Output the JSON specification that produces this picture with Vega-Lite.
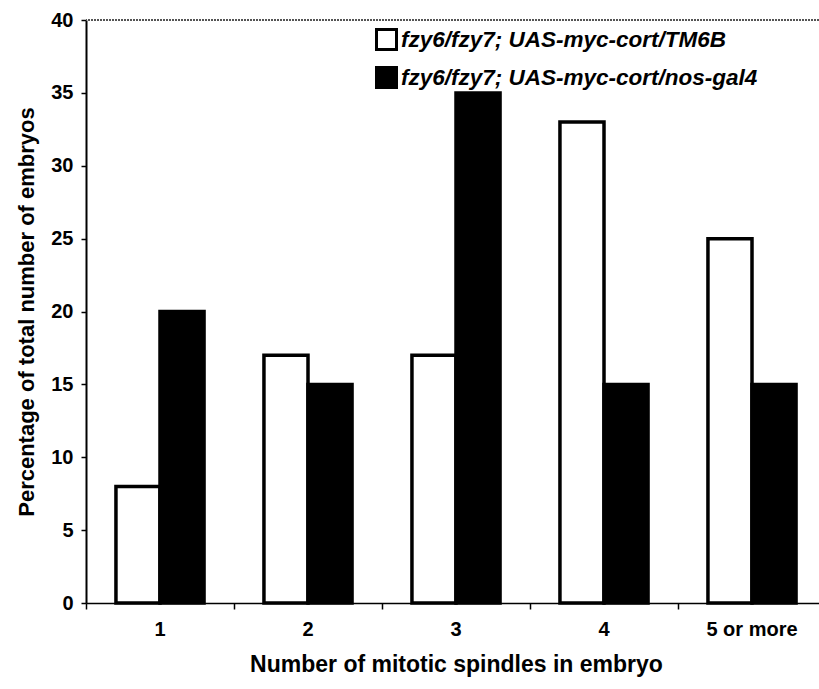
{
  "$schema": "https://vega.github.io/schema/vega-lite/v6.json",
  "width": 733,
  "height": 583,
  "autosize": {"type": "none"},
  "padding": {"left": 86, "top": 20, "right": 0, "bottom": 86},
  "background": "white",
  "config": {
    "view": {"stroke": null},
    "font": "Liberation Sans",
    "axis": {"domainColor": "black", "tickColor": "black", "labelColor": "black", "titleColor": "black", "grid": false}
  },
  "data": {
    "values": [
      {"spindles": "1", "genotype": "fzy6/fzy7; UAS-myc-cort/TM6B", "pct": 8},
      {"spindles": "1", "genotype": "fzy6/fzy7; UAS-myc-cort/nos-gal4", "pct": 20},
      {"spindles": "2", "genotype": "fzy6/fzy7; UAS-myc-cort/TM6B", "pct": 17},
      {"spindles": "2", "genotype": "fzy6/fzy7; UAS-myc-cort/nos-gal4", "pct": 15},
      {"spindles": "3", "genotype": "fzy6/fzy7; UAS-myc-cort/TM6B", "pct": 17},
      {"spindles": "3", "genotype": "fzy6/fzy7; UAS-myc-cort/nos-gal4", "pct": 35},
      {"spindles": "4", "genotype": "fzy6/fzy7; UAS-myc-cort/TM6B", "pct": 33},
      {"spindles": "4", "genotype": "fzy6/fzy7; UAS-myc-cort/nos-gal4", "pct": 15},
      {"spindles": "5 or more", "genotype": "fzy6/fzy7; UAS-myc-cort/TM6B", "pct": 25},
      {"spindles": "5 or more", "genotype": "fzy6/fzy7; UAS-myc-cort/nos-gal4", "pct": 15}
    ]
  },
  "layer": [
    {
      "mark": {"type": "bar", "stroke": "black", "strokeWidth": 3.5},
      "encoding": {
        "x": {
          "field": "spindles",
          "type": "nominal",
          "sort": ["1", "2", "3", "4", "5 or more"],
          "scale": {"paddingInner": 0, "paddingOuter": 0, "range": [0, 740]},
          "axis": {
            "title": "Number of mitotic spindles in embryo",
            "titleFontSize": 23,
            "titleFontWeight": "bold",
            "titlePadding": 14,
            "labelFontSize": 20,
            "labelFontWeight": "bold",
            "labelAngle": 0,
            "labelPadding": 10,
            "bandPosition": 0,
            "tickSize": 6,
            "tickWidth": 1.5,
            "domainWidth": 1.5
          }
        },
        "xOffset": {
          "field": "genotype",
          "sort": ["fzy6/fzy7; UAS-myc-cort/TM6B", "fzy6/fzy7; UAS-myc-cort/nos-gal4"],
          "scale": {"paddingInner": 0, "paddingOuter": 0.68}
        },
        "y": {
          "field": "pct",
          "type": "quantitative",
          "scale": {"domain": [0, 40], "nice": false},
          "axis": {
            "title": "Percentage of total number of embryos",
            "titleFontSize": 22,
            "titleFontWeight": "bold",
            "titlePadding": 12,
            "values": [0, 5, 10, 15, 20, 25, 30, 35, 40],
            "labelFontSize": 20,
            "labelFontWeight": "bold",
            "labelPadding": 8,
            "tickSize": 5,
            "tickWidth": 1.5,
            "domainWidth": 2
          }
        },
        "fill": {
          "field": "genotype",
          "type": "nominal",
          "scale": {
            "domain": ["fzy6/fzy7; UAS-myc-cort/TM6B", "fzy6/fzy7; UAS-myc-cort/nos-gal4"],
            "range": ["white", "black"]
          },
          "legend": {
            "title": null,
            "orient": "none",
            "legendX": 289,
            "legendY": 8,
            "symbolType": "square",
            "symbolSize": 400,
            "symbolStrokeColor": "black",
            "symbolStrokeWidth": 3,
            "labelFontSize": 22.5,
            "labelFontWeight": "bold",
            "labelFontStyle": "italic",
            "labelColor": "black",
            "labelOffset": 3,
            "rowPadding": 5,
            "labelLimit": 500
          }
        }
      }
    },
    {
      "mark": {"type": "rule", "color": "#555", "strokeWidth": 1, "strokeDash": [2, 1]},
      "encoding": {"y": {"datum": 40}}
    }
  ]
}
